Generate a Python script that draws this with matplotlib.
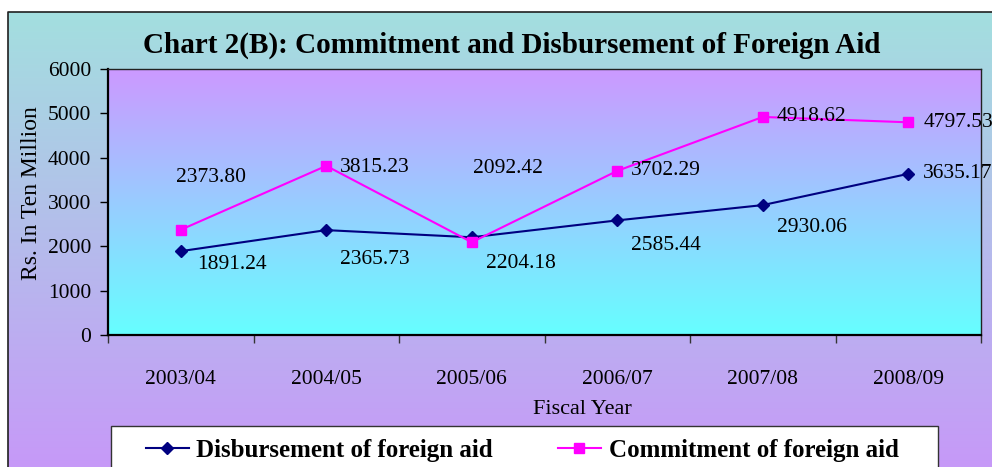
import numpy as np
import matplotlib
matplotlib.use('Agg')
import matplotlib.pyplot as plt
from matplotlib.colors import LinearSegmentedColormap
from matplotlib.lines import Line2D
from matplotlib.patches import Rectangle

plt.rcParams['font.family'] = ['Liberation Serif', 'DejaVu Serif']

years = ['2003/04', '2004/05', '2005/06', '2006/07', '2007/08', '2008/09']
disbursement = [1891.24, 2365.73, 2204.18, 2585.44, 2930.06, 3635.17]
commitment = [2373.80, 3815.23, 2092.42, 3702.29, 4918.62, 4797.53]
yticks = [0, 1000, 2000, 3000, 4000, 5000, 6000]

# label offsets in pixels (left edge, vertical centre) relative to each point
disb_off = [(16, -13), (14, -29), (14, -26), (14, -25), (14, -22), (15, 0)]
comm_off = [(-5, 52), (14, -2), (1, 74), (14, 0), (14, 0), (15, 0)]

W, H = 992, 467
fig = plt.figure(figsize=(W / 100, H / 100), dpi=100)

# outer chart area with vertical gradient
bg = fig.add_axes([0, 0, 1, 1], zorder=-10)
bg.set_xlim(0, W)
bg.set_ylim(0, H)
bg.axis('off')
outer_cmap = LinearSegmentedColormap.from_list('outer', ['#a3dfdf', '#c896f9'])
grad = np.linspace(0, 1, 256).reshape(-1, 1)
bg.imshow(grad, cmap=outer_cmap, extent=[8, W + 20, -20, H - 12], aspect='auto', origin='upper')
bg.plot([8, 8, W + 20], [-20, H - 12, H - 12], color='#202020', lw=1.2)
# legend box
bg.add_patch(Rectangle((111, -20), 938 - 111, H - 426 + 20, facecolor='white',
                       edgecolor='#333333', lw=1.0, zorder=5))

# plot area
x0, x1, ytop, ybot = 108, 981, 69, 335
ax = fig.add_axes([x0 / W, (H - ybot) / H, (x1 - x0) / W, (ybot - ytop) / H])
inner_cmap = LinearSegmentedColormap.from_list('inner', ['#cc99ff', '#99ccff', '#66ffff'])
ax.imshow(grad, cmap=inner_cmap, extent=[-0.5, 5.5, 0, 6000], aspect='auto', origin='upper', zorder=0)

xs = np.arange(len(years))
ax.plot(xs, disbursement, color='#000080', lw=1.5, marker='D', ms=6, zorder=3)
ax.plot(xs, commitment, color='#ff00ff', lw=1.5, marker='s', ms=7, zorder=3)

for i in range(len(years)):
    ax.annotate(f'{disbursement[i]:.2f}', (xs[i], disbursement[i]), xytext=disb_off[i],
                textcoords='offset pixels', ha='left', va='center', fontsize=15.5,
                annotation_clip=False, zorder=4)
    ax.annotate(f'{commitment[i]:.2f}', (xs[i], commitment[i]), xytext=comm_off[i],
                textcoords='offset pixels', ha='left', va='center', fontsize=15.5,
                annotation_clip=False, zorder=4)

ax.set_xlim(-0.5, 5.5)
ax.set_ylim(0, 6000)
ax.set_yticks(yticks)
ax.set_yticklabels([str(v) for v in yticks], fontsize=15.5)
ax.set_xticks(np.arange(-0.5, 6, 1))
ax.set_xticklabels([])
ax.set_xticks(xs, minor=True)
ax.set_xticklabels(years, minor=True, fontsize=15.5)
ax.tick_params(axis='x', which='minor', length=0, pad=25)
ax.tick_params(axis='x', which='major', length=6, width=1, color='#333333')
ax.tick_params(axis='y', length=6, width=1, pad=6)
for side in ['left', 'bottom']:
    ax.spines[side].set_linewidth(1.6)
for side in ['top', 'right']:
    ax.spines[side].set_linewidth(1.0)
    ax.spines[side].set_color('#222222')

fig.text(32 / W, 1 - 193 / H, 'Rs. In Ten Million', rotation=90, ha='center', va='center', fontsize=17)
fig.text(582 / W, 1 - 410 / H, 'Fiscal Year', ha='center', va='center', fontsize=16)
fig.text(512 / W, 1 - 45 / H, 'Chart 2(B): Commitment and Disbursement of Foreign Aid',
         ha='center', va='center', fontsize=21, fontweight='bold')

handles = [Line2D([], [], color='#000080', lw=1.5, marker='D', ms=6),
           Line2D([], [], color='#ff00ff', lw=1.5, marker='s', ms=7)]
leg = fig.legend(handles, ['Disbursement of foreign aid', 'Commitment of foreign aid'],
                 loc='center left', bbox_to_anchor=(146 / W, 1 - 450 / H), ncol=2,
                 frameon=False, prop={'weight': 'bold', 'size': 18}, handlelength=1.7,
                 handletextpad=0.32, columnspacing=2.6, borderpad=0, borderaxespad=0)
leg.set_zorder(6)

fig.savefig('out.png', dpi=100)
